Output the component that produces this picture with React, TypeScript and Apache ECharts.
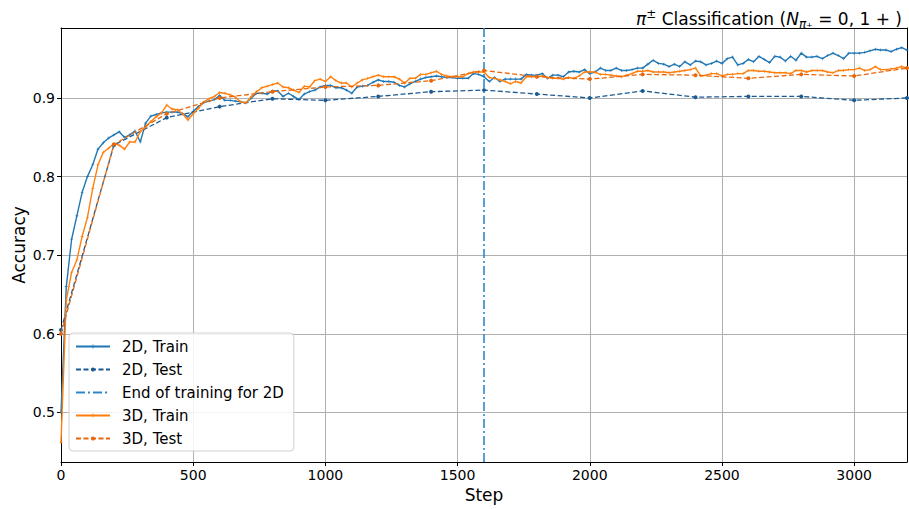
import React, { useEffect, useRef } from "react";
import * as echarts from "echarts";

const trainSteps: number[] = Array.from({ length: 161 }, (_, i) => i * 20);
const testSteps: number[] = [0, 200, 400, 600, 800, 1000, 1200, 1400, 1600, 1800, 2000, 2200, 2400, 2600, 2800, 3000, 3200];

const train2D: number[] = [
  0.500, 0.660, 0.720, 0.750, 0.780, 0.800, 0.815, 0.835, 0.843, 0.849,
  0.853, 0.857, 0.850, 0.853, 0.858, 0.844, 0.868, 0.877, 0.879, 0.881,
  0.882, 0.882, 0.882, 0.880, 0.876, 0.883, 0.889, 0.894, 0.896, 0.898,
  0.903, 0.897, 0.897, 0.896, 0.895, 0.894, 0.900, 0.906, 0.906, 0.905,
  0.909, 0.909, 0.902, 0.906, 0.902, 0.898, 0.905, 0.908, 0.910, 0.914,
  0.916, 0.916, 0.913, 0.913, 0.910, 0.906, 0.914, 0.915, 0.916, 0.920,
  0.923, 0.921, 0.921, 0.920, 0.916, 0.914, 0.918, 0.921, 0.924, 0.926,
  0.927, 0.928, 0.927, 0.926, 0.926, 0.925, 0.925, 0.925, 0.931, 0.930,
  0.927, 0.921, 0.926, 0.921, 0.924, 0.924, 0.924, 0.924, 0.930, 0.929,
  0.929, 0.931, 0.925, 0.929, 0.929, 0.927, 0.933, 0.934, 0.933, 0.936,
  0.931, 0.933, 0.938, 0.935, 0.935, 0.938, 0.935, 0.935, 0.936, 0.938,
  0.938, 0.943, 0.948, 0.944, 0.943, 0.940, 0.943, 0.940, 0.946, 0.942,
  0.947, 0.946, 0.942, 0.944, 0.947, 0.944, 0.950, 0.952, 0.942, 0.944,
  0.949, 0.946, 0.953, 0.949, 0.945, 0.953, 0.952, 0.947, 0.953, 0.948,
  0.957, 0.952, 0.952, 0.953, 0.950, 0.954, 0.957, 0.954, 0.950, 0.957,
  0.957, 0.957, 0.958, 0.960, 0.962, 0.961, 0.961, 0.959, 0.962, 0.964,
  0.961,
];

const train3D: number[] = [
  0.462, 0.643, 0.678, 0.694, 0.724, 0.748, 0.785, 0.815, 0.831, 0.836,
  0.842, 0.840, 0.835, 0.844, 0.844, 0.857, 0.863, 0.870, 0.876, 0.881,
  0.891, 0.886, 0.885, 0.880, 0.872, 0.880, 0.887, 0.895, 0.899, 0.902,
  0.907, 0.906, 0.904, 0.901, 0.895, 0.894, 0.902, 0.908, 0.913, 0.915,
  0.917, 0.919, 0.914, 0.913, 0.910, 0.907, 0.915, 0.914, 0.922, 0.924,
  0.921, 0.927, 0.922, 0.919, 0.919, 0.914, 0.919, 0.923, 0.925, 0.927,
  0.929, 0.927, 0.927, 0.927, 0.924, 0.919, 0.925, 0.925, 0.930, 0.930,
  0.932, 0.934, 0.930, 0.928, 0.927, 0.927, 0.927, 0.931, 0.933, 0.933,
  0.933, 0.926, 0.925, 0.923, 0.921, 0.918, 0.921, 0.919, 0.927, 0.927,
  0.927, 0.928, 0.926, 0.925, 0.925, 0.924, 0.926, 0.925, 0.928, 0.933,
  0.933, 0.933, 0.930, 0.930, 0.929, 0.928, 0.927, 0.929, 0.931, 0.934,
  0.934, 0.935, 0.933, 0.933, 0.933, 0.932, 0.933, 0.934, 0.935, 0.936,
  0.938, 0.928, 0.929, 0.931, 0.931, 0.928, 0.930, 0.930, 0.931, 0.931,
  0.935, 0.935, 0.934, 0.934, 0.933, 0.932, 0.932, 0.932, 0.931, 0.935,
  0.935, 0.933, 0.935, 0.935, 0.935, 0.933, 0.932, 0.935, 0.935, 0.936,
  0.936, 0.938, 0.935, 0.936, 0.940, 0.936, 0.936, 0.937, 0.938, 0.940,
  0.938,
];

const test2D: number[] = [0.605, 0.840, 0.875, 0.889, 0.899, 0.897, 0.902, 0.908, 0.910, 0.905, 0.900, 0.909, 0.901, 0.902, 0.902, 0.897, 0.900];
const test3D: number[] = [0.600, 0.841, 0.880, 0.900, 0.908, 0.914, 0.916, 0.922, 0.935, 0.927, 0.924, 0.930, 0.929, 0.925, 0.930, 0.928, 0.938];

const endOfTrainingStep = 1600;
const xMin = 0;
const xMax = 3200;
const yMin = 0.437;
const yMax = 0.989;
const yTicks: number[] = [0.5, 0.6, 0.7, 0.8, 0.9];
const xTicks: number[] = [0, 500, 1000, 1500, 2000, 2500, 3000];

const seriesNames = ["2D, Train", "2D, Test", "End of training for 2D", "3D, Train", "3D, Test"];

const C_TRAIN2D = "#1f77b4";
const C_TEST2D = "#1c5b92";
const C_VLINE = "#2f87c8";
const C_TRAIN3D = "#ff7f0e";
const C_TEST3D = "#e8670c";

const FONT = "DejaVu Sans";
const PLUS = "path://M4,0h2v4h4v2h-4v4h-2v-4h-4v-2h4z";

function pairs(xs: number[], ys: number[]) {
  return xs.map((x, i) => [x, ys[i]]);
}

export default function App() {
  const ref = useRef<HTMLDivElement>(null);
  useEffect(() => {
    if (!ref.current) return;
    const chart = echarts.init(ref.current, undefined, { renderer: "svg" });
    const axisText = { color: "#000", fontFamily: FONT, fontSize: 14 };
    const base = { fontFamily: FONT, color: "#000", fontWeight: "normal", lineHeight: 22 };
    const option: any = {
      animation: false,
      backgroundColor: "#fff",
      textStyle: { fontFamily: FONT },
      title: {
        right: 2,
        top: 3,
        text: "{i|π}{sup|±}{n| Classification (}{i|N}{sub|π}{subsup|±}{n| = 0, 1 + )}",
        textStyle: {
          fontWeight: "normal",
          rich: {
            n: { ...base, fontSize: 17 },
            i: { ...base, fontSize: 17, fontStyle: "italic" },
            sup: { ...base, fontSize: 12, verticalAlign: "top", padding: [0, 0, 6, 0] },
            sub: { ...base, fontSize: 12, fontStyle: "italic", verticalAlign: "bottom", padding: [6, 0, 0, 0] },
            subsup: { ...base, fontSize: 8, verticalAlign: "bottom" },
          },
        },
      },
      grid: { left: 61, right: 2, top: 28, bottom: 47, containLabel: false, outerBoundsMode: "none" },
      legend: {
        orient: "vertical",
        left: 69,
        top: 333,
        data: seriesNames,
        itemWidth: 34,
        itemHeight: 5,
        itemGap: 6,
        padding: [5, 10, 4, 6],
        backgroundColor: "rgba(255,255,255,0.85)",
        borderColor: "#d0d0d0",
        borderWidth: 1,
        borderRadius: 4,
        textStyle: { fontFamily: FONT, fontSize: 15, color: "#000", padding: [0, 0, 0, 7], lineHeight: 17 },
      },
      xAxis: [
        {
          type: "value",
          min: xMin,
          max: xMax,
          name: "Step",
          nameLocation: "middle",
          nameGap: 24,
          nameTextStyle: { fontFamily: FONT, fontSize: 17, color: "#000" },
          axisLine: { show: true, onZero: false, lineStyle: { color: "#000", width: 1 } },
          axisTick: { show: true, length: 4, lineStyle: { color: "#000" }, customValues: xTicks },
          axisLabel: { ...axisText, margin: 6, customValues: xTicks, formatter: (v: number) => String(v) },
          splitLine: { show: true, lineStyle: { color: "#b0b0b0", width: 1 } },
        },
        {
          type: "value",
          position: "top",
          min: xMin,
          max: xMax,
          axisLine: { show: true, onZero: false, lineStyle: { color: "#000", width: 1 } },
          axisTick: { show: false },
          axisLabel: { show: false },
          splitLine: { show: false },
        },
      ],
      yAxis: [
        {
          type: "value",
          min: yMin,
          max: yMax,
          name: "Accuracy",
          nameLocation: "middle",
          nameGap: 34,
          nameMoveOverlap: false,
          nameTextStyle: { fontFamily: FONT, fontSize: 17, color: "#000" },
          axisLine: { show: true, onZero: false, lineStyle: { color: "#000", width: 1 } },
          axisTick: { show: true, length: 4, lineStyle: { color: "#000" }, customValues: yTicks },
          axisLabel: { ...axisText, margin: 6, customValues: yTicks, formatter: (v: number) => v.toFixed(1) },
          splitLine: { show: true, lineStyle: { color: "#b0b0b0", width: 1 } },
        },
        {
          type: "value",
          position: "right",
          min: yMin,
          max: yMax,
          axisLine: { show: true, onZero: false, lineStyle: { color: "#000", width: 1 } },
          axisTick: { show: false },
          axisLabel: { show: false },
          splitLine: { show: false },
        },
      ],
      series: [
        {
          name: seriesNames[0],
          type: "line",
          data: pairs(trainSteps, train2D),
          symbol: PLUS,
          symbolSize: 3,
          showSymbol: true,
          color: C_TRAIN2D,
          lineStyle: { color: C_TRAIN2D, width: 1.4 },
          itemStyle: { color: C_TRAIN2D },
          z: 2,
        },
        {
          name: seriesNames[1],
          type: "line",
          data: pairs(testSteps, test2D),
          symbol: "circle",
          symbolSize: 4,
          color: C_TEST2D,
          lineStyle: { color: C_TEST2D, width: 1.3, type: [5, 2.5] },
          itemStyle: { color: C_TEST2D },
          z: 3,
        },
        {
          name: seriesNames[2],
          type: "line",
          data: [[endOfTrainingStep, yMin], [endOfTrainingStep, yMax]],
          symbol: "circle",
          symbolSize: 0,
          showSymbol: false,
          color: C_VLINE,
          lineStyle: { color: C_VLINE, width: 1.6, type: [9, 3, 2, 3] },
          itemStyle: { color: C_VLINE, opacity: 0 },
          z: 4,
        },
        {
          name: seriesNames[3],
          type: "line",
          data: pairs(trainSteps, train3D),
          symbol: PLUS,
          symbolSize: 3,
          showSymbol: true,
          color: C_TRAIN3D,
          lineStyle: { color: C_TRAIN3D, width: 1.4 },
          itemStyle: { color: C_TRAIN3D },
          z: 5,
        },
        {
          name: seriesNames[4],
          type: "line",
          data: pairs(testSteps, test3D),
          symbol: "circle",
          symbolSize: 4,
          color: C_TEST3D,
          lineStyle: { color: C_TEST3D, width: 1.3, type: [5, 2.5] },
          itemStyle: { color: C_TEST3D },
          z: 6,
        },
      ],
    };
    chart.setOption(option);
    return () => chart.dispose();
  }, []);
  return (
    <div
      ref={ref}
      style={{ position: "fixed", left: 0, top: 0, width: 909, height: 509, background: "#fff" }}
    />
  );
}
